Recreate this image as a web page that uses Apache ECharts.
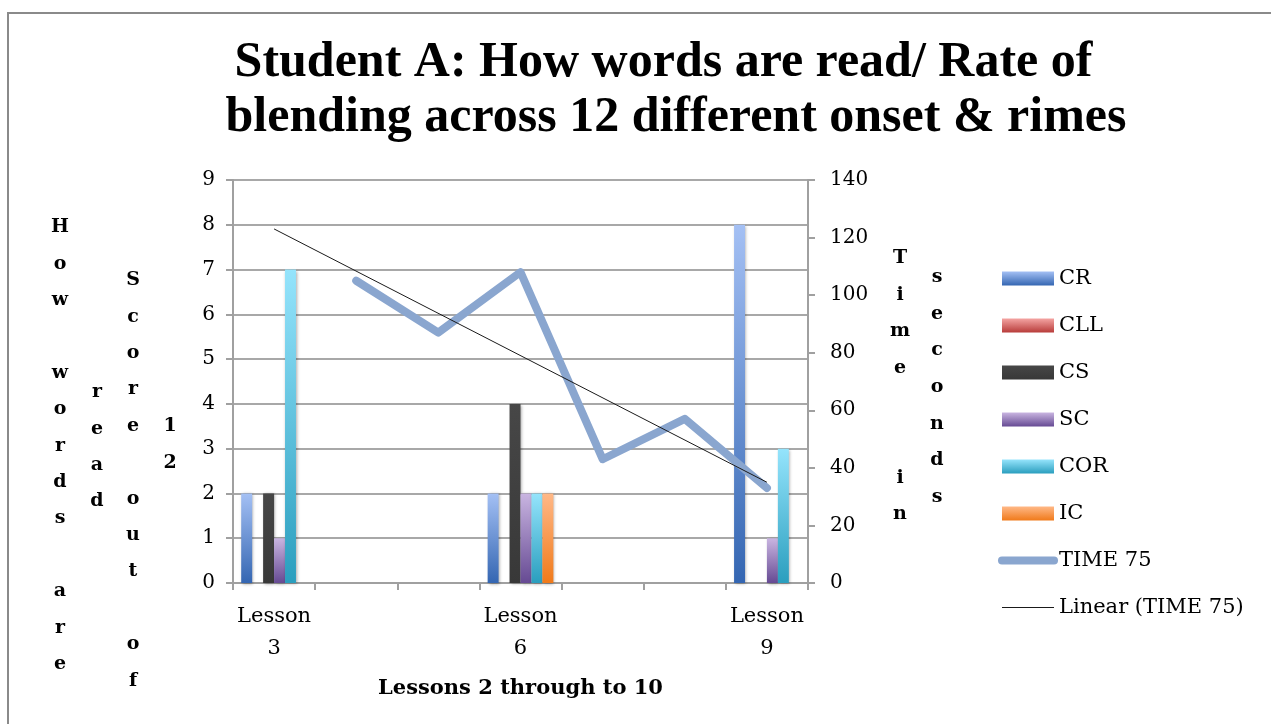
<!DOCTYPE html>
<html>
<head>
<meta charset="utf-8">
<script src="https://cdn.jsdelivr.net/npm/echarts@6/dist/echarts.min.js"></script>
<style>
html,body{margin:0;padding:0;background:#fff;}
#chart{width:1271px;height:724px;}
</style>
</head>
<body>
<div id="chart"></div>
<script>
// ---- data ----
const categories = ['Lesson\n3', 'Lesson\n4', 'Lesson\n5', 'Lesson\n6', 'Lesson\n7', 'Lesson\n8', 'Lesson\n9'];
const crValues  = [2, 0, 0, 2, 0, 0, 8];
const cllValues = [0, 0, 0, 0, 0, 0, 0];
const csValues  = [2, 0, 0, 4, 0, 0, 0];
const scValues  = [1, 0, 0, 2, 0, 0, 1];
const corValues = [7, 0, 0, 2, 0, 0, 3];
const icValues  = [0, 0, 0, 2, 0, 0, 0];
const timeValues = [null, 105, 87, 108, 43, 57, 33];
const trendValues = [123, null, null, null, null, null, 35];
const leftTicks = [0, 9, 1];
const rightTicks = [0, 140, 20];
const titleText = 'Student A: How words are read/ Rate of  \nblending across 12 different onset & rimes';
const xAxisTitle = 'Lessons 2 through to 10';
const leftTitleCols = ['How words are', 'read', 'Score out of', '12'];
const rightTitleCols = ['Time  in', 'seconds'];
const seriesNames = ['CR', 'CLL', 'CS', 'SC', 'COR', 'IC', 'TIME 75', 'Linear (TIME 75)'];

const SERIF_T = '"Liberation Serif", serif';
const SERIF = '"DejaVu Serif", serif';

function grad(top, bottom) {
  return new echarts.graphic.LinearGradient(0, 0, 0, 1, [
    { offset: 0, color: top }, { offset: 1, color: bottom }
  ]);
}
const barColors = [
  grad('#a4c0f4', '#3466b2'),
  grad('#f4a4a2', '#b83c3a'),
  grad('#474747', '#383838'),
  grad('#c9b5e1', '#664a93'),
  grad('#95e4fc', '#2a9ebe'),
  grad('#ffb887', '#f07a1a')
];
const barData = [crValues, cllValues, csValues, scValues, corValues, icValues];

const chart = echarts.init(document.getElementById('chart'), null, { renderer: 'canvas' });

const series = barData.map((d, i) => ({
  name: seriesNames[i],
  type: 'bar',
  yAxisIndex: 0,
  data: d,
  barGap: '0%',
  barCategoryGap: '20%',
  itemStyle: {
    color: barColors[i],
    shadowBlur: 3,
    shadowColor: 'rgba(0,0,0,0.35)',
    shadowOffsetX: 1,
    shadowOffsetY: 1
  }
}));
series.push({
  name: seriesNames[6],
  type: 'line',
  yAxisIndex: 1,
  data: timeValues,
  symbol: 'none',
  lineStyle: { color: '#8aa6cf', width: 8, cap: 'round', join: 'round' },
  itemStyle: { color: '#8aa6cf' },
  z: 3
});
series.push({
  name: seriesNames[7],
  type: 'line',
  yAxisIndex: 1,
  data: trendValues,
  connectNulls: true,
  symbol: 'none',
  lineStyle: { color: '#1a1a1a', width: 1 },
  itemStyle: { color: '#1a1a1a' },
  z: 4
});

function stackCol(s) { return s.split('').join('\n'); }

const graphics = [
  { type: 'rect', shape: { x: 8, y: 13, width: 1320, height: 800 },
    style: { fill: 'none', stroke: '#8a8a8a', lineWidth: 2 }, z: -10 }
];
const leftColPos = [[60, 209], [97, 374], [133, 262], [170, 408]];
leftTitleCols.forEach((t, i) => {
  graphics.push({ type: 'text', x: leftColPos[i][0], y: leftColPos[i][1],
    style: { text: stackCol(t), font: 'bold 19px ' + SERIF, fill: '#000',
      align: 'center', verticalAlign: 'top', lineHeight: 36.4 } });
});
const rightColPos = [[900, 240], [937, 259]];
rightTitleCols.forEach((t, i) => {
  graphics.push({ type: 'text', x: rightColPos[i][0], y: rightColPos[i][1],
    style: { text: stackCol(t), font: 'bold 19px ' + SERIF, fill: '#000',
      align: 'center', verticalAlign: 'top', lineHeight: 36.6 } });
});

const hidden = { color: 'rgba(0,0,0,0)', borderWidth: 0, borderColor: 'rgba(0,0,0,0)' };

chart.setOption({
  animation: false,
  backgroundColor: '#fff',
  title: {
    text: titleText,
    left: 671,
    top: 31,
    textAlign: 'center',
    textStyle: { fontFamily: SERIF_T, fontWeight: 'bold', fontSize: 50, lineHeight: 55, color: '#000' }
  },
  legend: {
    orient: 'vertical',
    left: 998,
    top: 268,
    padding: 0,
    itemWidth: 52,
    itemHeight: 14,
    itemGap: 26,
    data: seriesNames.map((n, i) => {
      if (i === 6) return { name: n, lineStyle: { width: 8, cap: 'round', color: '#8aa6cf' }, itemStyle: hidden };
      if (i === 7) return { name: n, lineStyle: { width: 1, color: '#1a1a1a' }, itemStyle: hidden };
      return { name: n, icon: 'rect' };
    }),
    itemStyle: { shadowBlur: 0, shadowColor: 'rgba(0,0,0,0)' },
    textStyle: { fontFamily: SERIF, fontSize: 21, color: '#000', lineHeight: 21 }
  },
  grid: { left: 233, right: 463, top: 180, bottom: 141, containLabel: false },
  xAxis: {
    type: 'category',
    data: categories,
    boundaryGap: true,
    name: xAxisTitle,
    nameLocation: 'middle',
    nameGap: 95,
    nameTextStyle: { fontFamily: SERIF, fontWeight: 'bold', fontSize: 21, color: '#000' },
    axisLine: { lineStyle: { color: '#a0a0a0', width: 2 } },
    axisTick: { show: true, interval: 0, length: 7, alignWithLabel: false, lineStyle: { color: '#a0a0a0', width: 2 } },
    axisLabel: { interval: 2, margin: 18, fontFamily: SERIF, fontSize: 21, lineHeight: 32, color: '#000' },
    splitLine: { show: false }
  },
  yAxis: [
    {
      type: 'value', min: leftTicks[0], max: leftTicks[1], interval: leftTicks[2],
      position: 'left',
      axisLine: { show: true, lineStyle: { color: '#a0a0a0', width: 2 } },
      axisTick: { show: true, length: 7, lineStyle: { color: '#a0a0a0', width: 2 } },
      axisLabel: { margin: 18, fontFamily: SERIF, fontSize: 20, color: '#000' },
      splitLine: { show: true, lineStyle: { color: '#a8a8a8', width: 2 } }
    },
    {
      type: 'value', min: rightTicks[0], max: rightTicks[1], interval: rightTicks[2],
      position: 'right',
      axisLine: { show: true, lineStyle: { color: '#a0a0a0', width: 2 } },
      axisTick: { show: true, length: 7, lineStyle: { color: '#a0a0a0', width: 2 } },
      axisLabel: { margin: 22, fontFamily: SERIF, fontSize: 20, color: '#000' },
      splitLine: { show: false }
    }
  ],
  graphic: graphics,
  series: series
});
</script>
</body>
</html>
